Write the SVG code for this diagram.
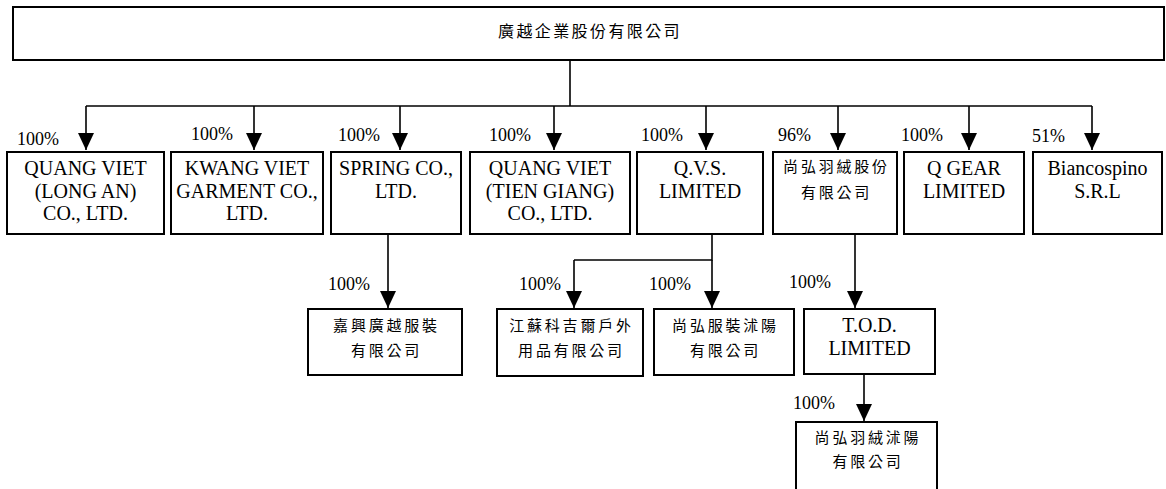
<svg xmlns="http://www.w3.org/2000/svg" width="1166" height="489" viewBox="0 0 1166 489">
<defs>
<marker id="arr" markerUnits="userSpaceOnUse" markerWidth="18" markerHeight="16" viewBox="0 0 18 16" refX="17" refY="8" orient="auto">
<path d="M0,0 L17,8 L0,16 Z" fill="#000"/>
</marker>
<style>
.box{fill:#fff;stroke:#000;stroke-width:2}
.ln{fill:none;stroke:#000;stroke-width:1.6}
.en{font-family:"Liberation Serif","Times New Roman",serif;font-size:20px;fill:#000;text-anchor:middle}
.pc{font-family:"Liberation Serif","Times New Roman",serif;font-size:18px;fill:#000}
.zh{font-family:"Noto Sans CJK TC","Noto Sans CJK SC",sans-serif;font-size:15px;letter-spacing:2.8px;fill:#000;text-anchor:middle}
.zt{font-family:"Noto Sans CJK TC","Noto Sans CJK SC",sans-serif;font-size:16px;letter-spacing:2.4px;fill:#000;text-anchor:middle}
</style>
</defs>
<rect width="1166" height="489" fill="#fff"/>

<g id="connectors">
<path class="ln" d="M570,60 V106"/>
<path class="ln" d="M86,106 H1092"/>
<path class="ln" d="M86,106 V150" marker-end="url(#arr)"/>
<path class="ln" d="M254,106 V150" marker-end="url(#arr)"/>
<path class="ln" d="M400,106 V150" marker-end="url(#arr)"/>
<path class="ln" d="M554,106 V150" marker-end="url(#arr)"/>
<path class="ln" d="M706,106 V150" marker-end="url(#arr)"/>
<path class="ln" d="M838,106 V150" marker-end="url(#arr)"/>
<path class="ln" d="M969,106 V150" marker-end="url(#arr)"/>
<path class="ln" d="M1092,106 V150" marker-end="url(#arr)"/>
<path class="ln" d="M388,234 V308" marker-end="url(#arr)"/>
<path class="ln" d="M712,234 V260 H574"/>
<path class="ln" d="M574,260 V308" marker-end="url(#arr)"/>
<path class="ln" d="M712,260 V308" marker-end="url(#arr)"/>
<path class="ln" d="M855,234 V308" marker-end="url(#arr)"/>
<path class="ln" d="M864,374 V421" marker-end="url(#arr)"/>
</g>

<g id="labels">
<text class="pc" x="17" y="145">100%</text>
<text class="pc" x="191" y="140">100%</text>
<text class="pc" x="338" y="141">100%</text>
<text class="pc" x="489" y="141">100%</text>
<text class="pc" x="641" y="141">100%</text>
<text class="pc" x="778" y="141">96%</text>
<text class="pc" x="901" y="141">100%</text>
<text class="pc" x="1032" y="142">51%</text>
<text class="pc" x="328" y="290">100%</text>
<text class="pc" x="519" y="290">100%</text>
<text class="pc" x="649" y="290">100%</text>
<text class="pc" x="789" y="288">100%</text>
<text class="pc" x="793" y="409">100%</text>
</g>

<g id="parent">
<rect class="box" x="13" y="7" width="1151" height="53"/>
<text class="zt" x="590" y="37">廣越企業股份有限公司</text>
</g>

<g id="n-longan">
<rect class="box" x="7" y="152" width="157" height="82"/>
<text class="en" x="85.5" y="175">QUANG VIET</text>
<text class="en" x="85.5" y="197.5">(LONG AN)</text>
<text class="en" x="85.5" y="220">CO., LTD.</text>
</g>
<g id="n-kwang">
<rect class="box" x="171" y="152" width="152" height="82"/>
<text class="en" x="247" y="175">KWANG VIET</text>
<text class="en" x="247" y="197.5">GARMENT CO.,</text>
<text class="en" x="247" y="220">LTD.</text>
</g>
<g id="n-spring">
<rect class="box" x="331" y="152" width="130" height="82"/>
<text class="en" x="396" y="175">SPRING CO.,</text>
<text class="en" x="396" y="197.5">LTD.</text>
</g>
<g id="n-tiengiang">
<rect class="box" x="470" y="152" width="160" height="82"/>
<text class="en" x="550" y="175">QUANG VIET</text>
<text class="en" x="550" y="197.5">(TIEN GIANG)</text>
<text class="en" x="550" y="220">CO., LTD.</text>
</g>
<g id="n-qvs">
<rect class="box" x="637" y="152" width="126" height="82"/>
<text class="en" x="700" y="175">Q.V.S.</text>
<text class="en" x="700" y="197.5">LIMITED</text>
</g>
<g id="n-shanghong">
<rect class="box" x="773" y="152" width="124" height="82"/>
<text class="zh" x="836.5" y="172">尚弘羽絨股份</text>
<text class="zh" x="836.5" y="198">有限公司</text>
</g>
<g id="n-qgear">
<rect class="box" x="904" y="152" width="120" height="82"/>
<text class="en" x="964" y="175">Q GEAR</text>
<text class="en" x="964" y="197.5">LIMITED</text>
</g>
<g id="n-bianco">
<rect class="box" x="1033" y="152" width="129" height="82"/>
<text class="en" x="1097.5" y="175">Biancospino</text>
<text class="en" x="1097.5" y="197.5">S.R.L</text>
</g>

<g id="n-jiaxing">
<rect class="box" x="308" y="309" width="154" height="66"/>
<text class="zh" x="386.5" y="331">嘉興廣越服裝</text>
<text class="zh" x="386.5" y="356">有限公司</text>
</g>
<g id="n-jiangsu">
<rect class="box" x="497" y="309" width="146" height="67"/>
<text class="zh" x="571.5" y="331">江蘇科吉爾戶外</text>
<text class="zh" x="571.5" y="356">用品有限公司</text>
</g>
<g id="n-shuyang-garment">
<rect class="box" x="654" y="309" width="140" height="66"/>
<text class="zh" x="725.5" y="331">尚弘服裝沭陽</text>
<text class="zh" x="725.5" y="356">有限公司</text>
</g>
<g id="n-tod">
<rect class="box" x="804" y="309" width="131" height="65"/>
<text class="en" x="869.5" y="332">T.O.D.</text>
<text class="en" x="869.5" y="355">LIMITED</text>
</g>
<g id="n-shuyang-down">
<rect class="box" x="796" y="422" width="141" height="80"/>
<text class="zh" x="868" y="443">尚弘羽絨沭陽</text>
<text class="zh" x="868" y="467">有限公司</text>
</g>
</svg>
